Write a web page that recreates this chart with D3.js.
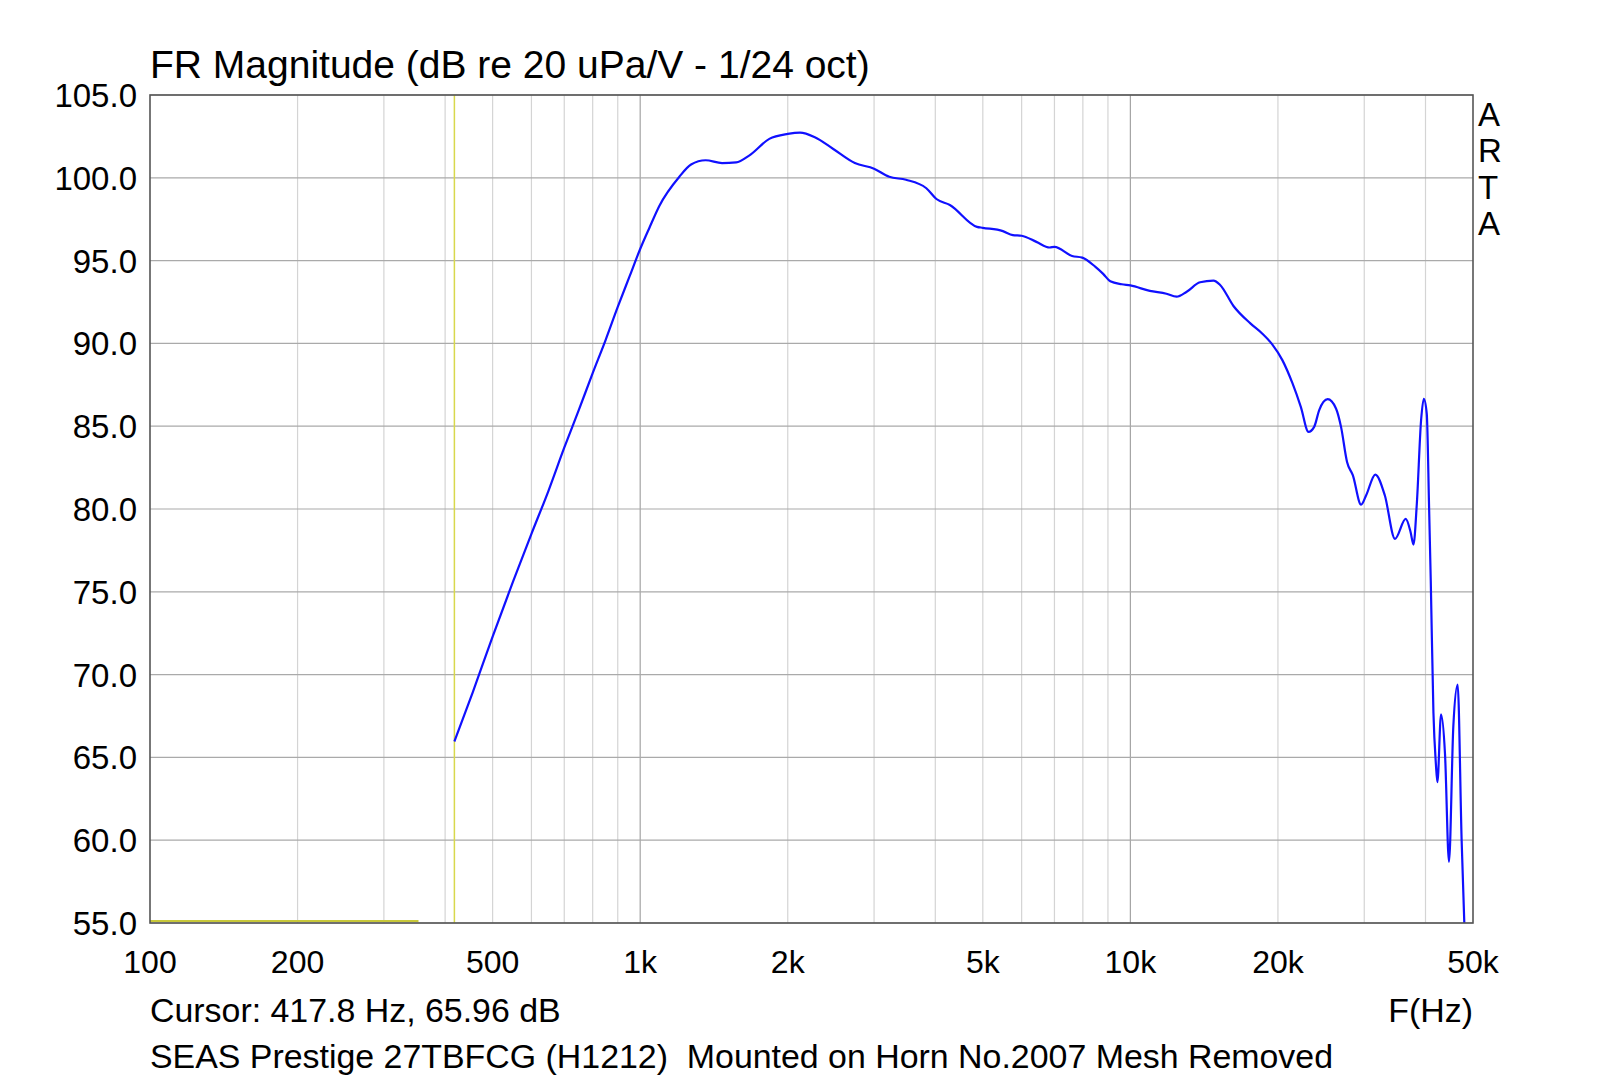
<!DOCTYPE html>
<html>
<head>
<meta charset="utf-8">
<script src="https://cdn.jsdelivr.net/npm/d3@7"></script>
<style>
  html, body { margin: 0; padding: 0; background: #ffffff; }
  svg text { font-family: "Liberation Sans", Arial, sans-serif; fill: #000; white-space: pre; }
</style>
</head>
<body>
<div id="chart"></div>
<script>
// measured response (Hz, dB)
var freqHz = [417.8, 455, 500, 550, 600, 650, 700, 750, 800, 850, 900, 950, 1000, 1045, 1094, 1201, 1270,
  1360, 1469, 1570, 1668, 1834, 2000, 2119, 2272, 2477, 2741, 3000, 3222, 3486, 3835, 4021,
  4283, 4865, 5000, 5494, 5758, 6000, 6431, 6845, 7000, 7607, 7976, 8486, 8800, 9100, 9600,
  10000, 10956, 11847, 12424, 13030, 13874, 14773, 15244, 16230, 17570, 18570, 19470, 20420,
  21420, 22270, 23090, 23710, 24280, 25260, 26270, 26900, 27670, 28430, 29560, 30270, 31600,
  33040, 34660, 36450, 37300, 37800, 38400, 39180, 39680, 40240, 40680, 41000, 41520, 42000,
  42300, 43030, 43840, 44670, 45590, 46520, 47400, 48000, 48300];
var levelDb = [65.96, 68.9, 72.3, 75.6, 78.5, 81.1, 83.7, 86.0, 88.2, 90.2, 92.2, 94.0, 95.7, 97.0, 98.3, 100.05, 100.8,
  101.06, 100.89, 100.93, 101.34, 102.35, 102.65, 102.73, 102.45, 101.74, 100.89, 100.55, 100.06, 99.88, 99.37, 98.72,
  98.36, 97.04, 96.98, 96.78, 96.54, 96.5, 96.13, 95.79, 95.83, 95.28, 95.18, 94.62, 94.2, 93.75, 93.57,
  93.5, 93.17, 93.0, 92.82, 93.12, 93.69, 93.79, 93.53, 92.26, 91.21, 90.6, 89.94, 88.99,
  87.58, 86.17, 84.66, 84.96, 85.97, 86.63, 86.07, 84.96, 82.84, 82.04, 80.26, 80.83, 82.08,
  80.83, 78.2, 79.4, 78.6, 77.85, 80.3, 85.36, 86.65, 85.75, 80.1, 75.7, 67.7, 64.6,
  63.5, 67.6, 65.2, 58.7, 66.9, 69.4, 60.0, 55.0, 53.0];

var yTicks = [55, 60, 65, 70, 75, 80, 85, 90, 95, 100, 105];
var xTickValues = [100, 200, 500, 1000, 2000, 5000, 10000, 20000, 50000];
var xTickLabels = ["100", "200", "500", "1k", "2k", "5k", "10k", "20k", "50k"];
var decadeLines = [1000, 10000];
var minorLines = [200, 300, 400, 500, 600, 700, 800, 900, 2000, 3000, 4000, 5000, 6000, 7000,
  8000, 9000, 20000, 30000, 40000];

var cursorHz = 417.8;
var cursorDb = 65.96;
var levelMarker = [100, 353];
var levelMarkerDb = 55.12;

var titleText = "FR Magnitude (dB re 20 uPa/V - 1/24 oct)";
var noteText = "SEAS Prestige 27TBFCG (H1212)  Mounted on Horn No.2007 Mesh Removed";
var brandText = ["A", "R", "T", "A"];

var width = 1623, height = 1080;
var margin = {left: 150, right: 150, top: 95, bottom: 157};
var plotW = width - margin.left - margin.right;
var plotH = height - margin.top - margin.bottom;

var svg = d3.select("#chart").append("svg")
  .attr("width", width).attr("height", height);

var x = d3.scaleLog().domain([100, 50000]).range([0, plotW]);
var y = d3.scaleLinear().domain([55, 105]).range([plotH, 0]);

var g = svg.append("g").attr("transform", "translate(" + margin.left + "," + margin.top + ")");

svg.append("defs").append("clipPath").attr("id", "plotclip")
  .append("rect").attr("width", plotW).attr("height", plotH);

// grid
g.selectAll("line.minor").data(minorLines).enter().append("line")
  .attr("class", "minor")
  .attr("x1", function(d) { return x(d); }).attr("x2", function(d) { return x(d); })
  .attr("y1", 0).attr("y2", plotH)
  .attr("stroke", "#d4d4d4").attr("stroke-width", 1.2);

g.selectAll("line.decade").data(decadeLines).enter().append("line")
  .attr("class", "decade")
  .attr("x1", function(d) { return x(d); }).attr("x2", function(d) { return x(d); })
  .attr("y1", 0).attr("y2", plotH)
  .attr("stroke", "#a4a4a4").attr("stroke-width", 1.2);

g.selectAll("line.hgrid").data(yTicks).enter().append("line")
  .attr("class", "hgrid")
  .attr("x1", 0).attr("x2", plotW)
  .attr("y1", function(d) { return y(d); }).attr("y2", function(d) { return y(d); })
  .attr("stroke", "#aaaaaa").attr("stroke-width", 1.2);

// cursor markers
g.append("line")
  .attr("x1", x(cursorHz)).attr("x2", x(cursorHz))
  .attr("y1", 0).attr("y2", plotH)
  .attr("stroke", "#d8d84c").attr("stroke-width", 1.5);

g.append("line")
  .attr("x1", x(levelMarker[0])).attr("x2", x(levelMarker[1]))
  .attr("y1", y(levelMarkerDb)).attr("y2", y(levelMarkerDb))
  .attr("stroke", "#c8c83a").attr("stroke-width", 2);

// response curve
var pts = freqHz.map(function(f, i) { return [f, levelDb[i]]; });
var line = d3.line()
  .x(function(d) { return x(d[0]); })
  .y(function(d) { return y(d[1]); })
  .curve(d3.curveMonotoneX);

g.append("path")
  .datum(pts)
  .attr("clip-path", "url(#plotclip)")
  .attr("d", line)
  .attr("fill", "none")
  .attr("stroke", "#1010ff")
  .attr("stroke-width", 2.2);

// frame
g.append("rect")
  .attr("width", plotW).attr("height", plotH)
  .attr("fill", "none").attr("stroke", "#555555").attr("stroke-width", 1.6);

// axis labels
g.selectAll("text.ytick").data(yTicks).enter().append("text")
  .attr("class", "ytick")
  .attr("x", -13).attr("y", function(d) { return y(d) + 12; })
  .attr("text-anchor", "end")
  .style("font-size", "33px")
  .text(function(d) { return d3.format(".1f")(d); });

g.selectAll("text.xtick").data(xTickValues).enter().append("text")
  .attr("class", "xtick")
  .attr("x", function(d) { return x(d); }).attr("y", plotH + 50)
  .attr("text-anchor", "middle")
  .style("font-size", "32px")
  .text(function(d, i) { return xTickLabels[i]; });

svg.append("text")
  .attr("x", margin.left).attr("y", 78)
  .style("font-size", "39px")
  .text(titleText);

svg.selectAll("text.brand").data(brandText).enter().append("text")
  .attr("class", "brand")
  .attr("x", margin.left + plotW + 5)
  .attr("y", function(d, i) { return 126 + i * 36.3; })
  .style("font-size", "33px")
  .text(function(d) { return d; });

svg.append("text")
  .attr("x", margin.left).attr("y", 1022)
  .style("font-size", "33.9px")
  .text("Cursor: " + cursorHz + " Hz, " + cursorDb + " dB");

svg.append("text")
  .attr("x", margin.left + plotW).attr("y", 1022)
  .attr("text-anchor", "end")
  .style("font-size", "33.9px")
  .text("F(Hz)");

svg.append("text")
  .attr("x", margin.left).attr("y", 1068)
  .style("font-size", "33.9px")
  .text(noteText);
</script>
</body>
</html>
